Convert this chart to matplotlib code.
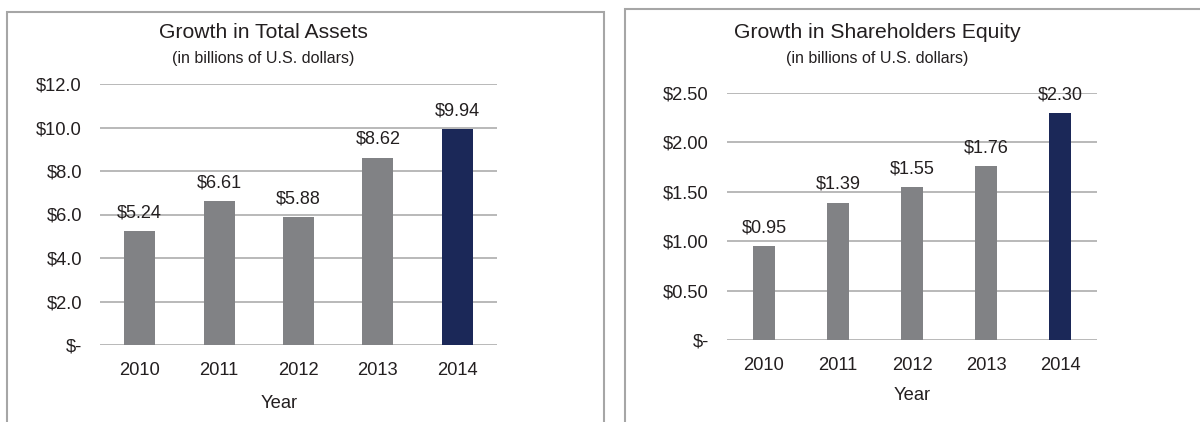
import numpy as np
import matplotlib
matplotlib.use('Agg')
import matplotlib.pyplot as plt
from matplotlib.patches import Rectangle

plt.rcParams['font.family'] = ['Liberation Sans', 'DejaVu Sans']

years = ['2010', '2011', '2012', '2013', '2014']
total_assets = [5.24, 6.61, 5.88, 8.62, 9.94]
equity = [0.95, 1.39, 1.55, 1.76, 2.30]

assets_ticks = [0, 2, 4, 6, 8, 10, 12]
assets_labels = ['$-', '$2.0', '$4.0', '$6.0', '$8.0', '$10.0', '$12.0']
equity_ticks = [0, 0.5, 1.0, 1.5, 2.0, 2.5]
equity_labels = ['$-', '$0.50', '$1.00', '$1.50', '$2.00', '$2.50']

gray = '#818285'
navy = '#1b2858'
grid_c = '#b3b3b3'
text_c = '#231f20'

W, H = 1200, 422
fig = plt.figure(figsize=(12, 4.22), dpi=100)


def fx(px):
    return px / W


def fy(py):
    return 1 - py / H


# panel borders
fig.patches.append(Rectangle((fx(7), fy(440)), fx(597), fy(12) - fy(440),
                             transform=fig.transFigure, fill=False,
                             edgecolor='#a6a6a6', lw=1.5))
fig.patches.append(Rectangle((fx(625), fy(440)), fx(600), fy(9) - fy(440),
                             transform=fig.transFigure, fill=False,
                             edgecolor='#a6a6a6', lw=1.5))


def panel(rect, values, ticks, labels, width, title, tx, ty, sy, yx, yy, fmt):
    ax = fig.add_axes(rect)
    x = np.arange(len(values))
    colors = [gray] * (len(values) - 1) + [navy]
    ax.bar(x, values, width=width, color=colors, zorder=3)
    ax.set_xlim(-0.5, len(values) - 0.5)
    ax.set_ylim(0, ticks[-1])
    ax.set_yticks(ticks)
    ax.set_yticklabels(labels)
    ax.set_xticks(x)
    ax.set_xticklabels(years)
    ax.tick_params(axis='both', length=0, labelsize=13.2, colors=text_c)
    ax.tick_params(axis='y', pad=13)
    ax.tick_params(axis='x', pad=12)
    for s in ax.spines.values():
        s.set_visible(False)
    ax.yaxis.grid(True, color=grid_c, lw=1.3, zorder=1)
    ax.set_axisbelow(True)
    for xi, v in zip(x, values):
        ax.annotate(fmt.format(v), (xi, v), xytext=(0, 7),
                    textcoords='offset points', ha='center', va='bottom',
                    fontsize=13, color=text_c, zorder=4)
    fig.text(fx(tx), fy(ty), title, ha='center', va='center',
             fontsize=15.2, color=text_c)
    fig.text(fx(tx), fy(sy), '(in billions of U.S. dollars)', ha='center',
             va='center', fontsize=11.5, color=text_c)
    fig.text(fx(yx), fy(yy), 'Year', ha='center', va='center',
             fontsize=13.2, color=text_c)
    return ax


panel([fx(100), fy(345), fx(397), fy(84) - fy(345)], total_assets,
      assets_ticks, assets_labels, 0.39, 'Growth in Total Assets',
      263, 33, 58, 279, 404, '${:.2f}')
panel([fx(727), fy(340), fx(370), fy(93) - fy(340)], equity,
      equity_ticks, equity_labels, 0.31, 'Growth in Shareholders Equity',
      877, 33, 59, 912, 396, '${:.2f}')

fig.savefig('out.png', dpi=100)
